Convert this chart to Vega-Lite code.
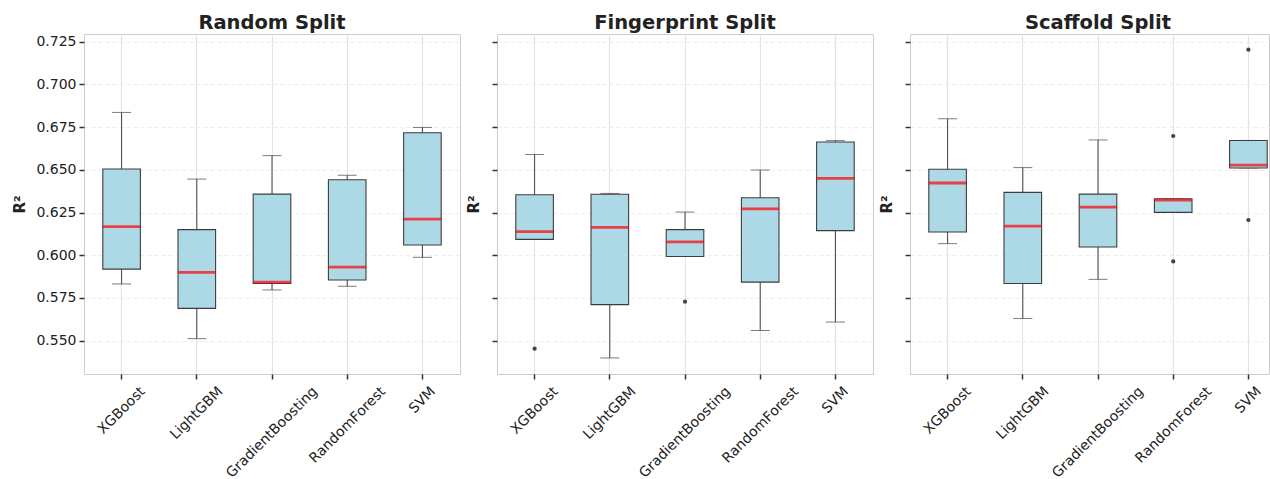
{
  "$schema": "https://vega.github.io/schema/vega-lite/v6.json",
  "usermeta": {"embedOptions": {"actions": false}},
  "background": "white",
  "autosize": {"type": "pad"},
  "padding": {"left": 12, "top": 12, "right": 0, "bottom": 0},
  "spacing": 37,
  "bounds": "flush",
  "datasets": {
    "boxes": [
      {"split": "Random Split", "model": "XGBoost", "min": 0.5832, "q1": 0.5919, "median": 0.6167, "q3": 0.6505, "max": 0.6836},
      {"split": "Random Split", "model": "LightGBM", "min": 0.5512, "q1": 0.5689, "median": 0.5900, "q3": 0.6150, "max": 0.6446},
      {"split": "Random Split", "model": "GradientBoosting", "min": 0.5797, "q1": 0.5835, "median": 0.5843, "q3": 0.6358, "max": 0.6583},
      {"split": "Random Split", "model": "RandomForest", "min": 0.5818, "q1": 0.5855, "median": 0.5931, "q3": 0.6442, "max": 0.6468},
      {"split": "Random Split", "model": "SVM", "min": 0.5988, "q1": 0.6060, "median": 0.6212, "q3": 0.6717, "max": 0.6748},
      {"split": "Fingerprint Split", "model": "XGBoost", "min": 0.6093, "q1": 0.6093, "median": 0.6138, "q3": 0.6354, "max": 0.6589},
      {"split": "Fingerprint Split", "model": "LightGBM", "min": 0.5399, "q1": 0.5711, "median": 0.6163, "q3": 0.6357, "max": 0.6362},
      {"split": "Fingerprint Split", "model": "GradientBoosting", "min": 0.5993, "q1": 0.5993, "median": 0.6078, "q3": 0.6150, "max": 0.6253},
      {"split": "Fingerprint Split", "model": "RandomForest", "min": 0.5560, "q1": 0.5843, "median": 0.6271, "q3": 0.6337, "max": 0.6499},
      {"split": "Fingerprint Split", "model": "SVM", "min": 0.5609, "q1": 0.6144, "median": 0.6450, "q3": 0.6663, "max": 0.6671},
      {"split": "Scaffold Split", "model": "XGBoost", "min": 0.6068, "q1": 0.6136, "median": 0.6423, "q3": 0.6503, "max": 0.6799},
      {"split": "Scaffold Split", "model": "LightGBM", "min": 0.5630, "q1": 0.5835, "median": 0.6171, "q3": 0.6368, "max": 0.6513},
      {"split": "Scaffold Split", "model": "GradientBoosting", "min": 0.5859, "q1": 0.6048, "median": 0.6282, "q3": 0.6358, "max": 0.6675},
      {"split": "Scaffold Split", "model": "RandomForest", "min": 0.6251, "q1": 0.6251, "median": 0.6323, "q3": 0.6331, "max": 0.6331},
      {"split": "Scaffold Split", "model": "SVM", "min": 0.6511, "q1": 0.6511, "median": 0.6528, "q3": 0.6672, "max": 0.6672}
    ],
    "outliers": [
      {"split": "Fingerprint Split", "model": "XGBoost", "value": 0.5453},
      {"split": "Fingerprint Split", "model": "GradientBoosting", "value": 0.5728},
      {"split": "Scaffold Split", "model": "RandomForest", "value": 0.6698},
      {"split": "Scaffold Split", "model": "RandomForest", "value": 0.5964},
      {"split": "Scaffold Split", "model": "SVM", "value": 0.7203},
      {"split": "Scaffold Split", "model": "SVM", "value": 0.6206}
    ]
  },
  "hconcat": [
    {
      "width": 376, "height": 340,
      "title": {"text": "Random Split"},
      "encoding": {
        "x": {"field": "model", "type": "nominal", "sort": ["XGBoost", "LightGBM", "GradientBoosting", "RandomForest", "SVM"],
          "scale": {"paddingInner": 0, "paddingOuter": 0},
          "axis": {"title": null, "labelAngle": -45, "labelAlign": "right", "labelBaseline": "top", "labelPadding": 5, "labelOverlap": false,
            "labelOffset": {"condition": [{"test": "datum.value === 'XGBoost'", "value": 16.3}, {"test": "datum.value === 'LightGBM'", "value": 18.9}, {"test": "datum.value === 'GradientBoosting'", "value": 38.3}, {"test": "datum.value === 'RandomForest'", "value": 31.2}], "value": 5.8},
            "tickSize": 5, "tickColor": "#333333", "tickWidth": 1.5, "domain": false, "grid": true, "gridColor": "#e3e3e3", "gridWidth": 1.2, "bandPosition": 0.5, "labelFontSize": 14, "labelColor": "#222222"}}
      },
      "layer": [
        {"data": {"name": "boxes"}, "transform": [{"filter": "datum.split === 'Random Split'"}],
         "mark": {"type": "rule", "color": "#444444", "strokeWidth": 1},
         "encoding": {"y": {"field": "min", "type": "quantitative", "scale": {"domain": [0.5305, 0.7295], "nice": false, "zero": false},
            "axis": {"title": "R²", "values": [0.55, 0.575, 0.6, 0.625, 0.65, 0.675, 0.7, 0.725], "format": ".3f", "tickSize": 5, "tickWidth": 1.5, "tickColor": "#333333", "labelPadding": 3, "labelFontSize": 14, "labelColor": "#222222", "domain": false, "grid": true, "gridColor": "#ececec", "gridDash": [4, 3], "gridWidth": 1, "titleFontSize": 15, "titleFontWeight": "bold", "titleColor": "#222222", "titlePadding": 8}},
           "y2": {"field": "max"}}},
        {"data": {"name": "boxes"}, "transform": [{"filter": "datum.split === 'Random Split'"}],
         "mark": {"type": "tick", "color": "#444444", "size": 19, "thickness": 1},
         "encoding": {"y": {"field": "min", "type": "quantitative", "scale": {"domain": [0.5305, 0.7295], "nice": false, "zero": false},
            "axis": {"title": "R²", "values": [0.55, 0.575, 0.6, 0.625, 0.65, 0.675, 0.7, 0.725], "format": ".3f", "tickSize": 5, "tickWidth": 1.5, "tickColor": "#333333", "labelPadding": 3, "labelFontSize": 14, "labelColor": "#222222", "domain": false, "grid": true, "gridColor": "#ececec", "gridDash": [4, 3], "gridWidth": 1, "titleFontSize": 15, "titleFontWeight": "bold", "titleColor": "#222222", "titlePadding": 8}}}},
        {"data": {"name": "boxes"}, "transform": [{"filter": "datum.split === 'Random Split'"}],
         "mark": {"type": "tick", "color": "#444444", "size": 19, "thickness": 1},
         "encoding": {"y": {"field": "max", "type": "quantitative", "scale": {"domain": [0.5305, 0.7295], "nice": false, "zero": false},
            "axis": {"title": "R²", "values": [0.55, 0.575, 0.6, 0.625, 0.65, 0.675, 0.7, 0.725], "format": ".3f", "tickSize": 5, "tickWidth": 1.5, "tickColor": "#333333", "labelPadding": 3, "labelFontSize": 14, "labelColor": "#222222", "domain": false, "grid": true, "gridColor": "#ececec", "gridDash": [4, 3], "gridWidth": 1, "titleFontSize": 15, "titleFontWeight": "bold", "titleColor": "#222222", "titlePadding": 8}}}},
        {"data": {"name": "boxes"}, "transform": [{"filter": "datum.split === 'Random Split'"}],
         "mark": {"type": "bar", "fill": "#ADD8E6", "stroke": "#3d3d3d", "strokeWidth": 1.1, "width": {"band": 0.5}},
         "encoding": {"y": {"field": "q1", "type": "quantitative", "scale": {"domain": [0.5305, 0.7295], "nice": false, "zero": false},
            "axis": {"title": "R²", "values": [0.55, 0.575, 0.6, 0.625, 0.65, 0.675, 0.7, 0.725], "format": ".3f", "tickSize": 5, "tickWidth": 1.5, "tickColor": "#333333", "labelPadding": 3, "labelFontSize": 14, "labelColor": "#222222", "domain": false, "grid": true, "gridColor": "#ececec", "gridDash": [4, 3], "gridWidth": 1, "titleFontSize": 15, "titleFontWeight": "bold", "titleColor": "#222222", "titlePadding": 8}}, "y2": {"field": "q3"}}},
        {"data": {"name": "boxes"}, "transform": [{"filter": "datum.split === 'Random Split'"}],
         "mark": {"type": "tick", "color": "#ff0000", "size": 37.6, "thickness": 2.8},
         "encoding": {"y": {"field": "median", "type": "quantitative", "scale": {"domain": [0.5305, 0.7295], "nice": false, "zero": false},
            "axis": {"title": "R²", "values": [0.55, 0.575, 0.6, 0.625, 0.65, 0.675, 0.7, 0.725], "format": ".3f", "tickSize": 5, "tickWidth": 1.5, "tickColor": "#333333", "labelPadding": 3, "labelFontSize": 14, "labelColor": "#222222", "domain": false, "grid": true, "gridColor": "#ececec", "gridDash": [4, 3], "gridWidth": 1, "titleFontSize": 15, "titleFontWeight": "bold", "titleColor": "#222222", "titlePadding": 8}}}},
        {"data": {"name": "outliers"}, "transform": [{"filter": "datum.split === 'Random Split'"}],
         "mark": {"type": "point", "filled": true, "color": "#444444", "size": 18, "opacity": 1},
         "encoding": {"y": {"field": "value", "type": "quantitative", "scale": {"domain": [0.5305, 0.7295], "nice": false, "zero": false},
            "axis": {"title": "R²", "values": [0.55, 0.575, 0.6, 0.625, 0.65, 0.675, 0.7, 0.725], "format": ".3f", "tickSize": 5, "tickWidth": 1.5, "tickColor": "#333333", "labelPadding": 3, "labelFontSize": 14, "labelColor": "#222222", "domain": false, "grid": true, "gridColor": "#ececec", "gridDash": [4, 3], "gridWidth": 1, "titleFontSize": 15, "titleFontWeight": "bold", "titleColor": "#222222", "titlePadding": 8}}}}
      ]
    },
    {
      "width": 376, "height": 340,
      "title": {"text": "Fingerprint Split"},
      "encoding": {
        "x": {"field": "model", "type": "nominal", "sort": ["XGBoost", "LightGBM", "GradientBoosting", "RandomForest", "SVM"],
          "scale": {"paddingInner": 0, "paddingOuter": 0},
          "axis": {"title": null, "labelAngle": -45, "labelAlign": "right", "labelBaseline": "top", "labelPadding": 5, "labelOverlap": false,
            "labelOffset": {"condition": [{"test": "datum.value === 'XGBoost'", "value": 16.3}, {"test": "datum.value === 'LightGBM'", "value": 18.9}, {"test": "datum.value === 'GradientBoosting'", "value": 38.3}, {"test": "datum.value === 'RandomForest'", "value": 31.2}], "value": 5.8},
            "tickSize": 5, "tickColor": "#333333", "tickWidth": 1.5, "domain": false, "grid": true, "gridColor": "#e3e3e3", "gridWidth": 1.2, "bandPosition": 0.5, "labelFontSize": 14, "labelColor": "#222222"}}
      },
      "layer": [
        {"data": {"name": "boxes"}, "transform": [{"filter": "datum.split === 'Fingerprint Split'"}],
         "mark": {"type": "rule", "color": "#444444", "strokeWidth": 1},
         "encoding": {"y": {"field": "min", "type": "quantitative", "scale": {"domain": [0.5305, 0.7295], "nice": false, "zero": false},
            "axis": {"title": "R²", "labels": false, "values": [0.55, 0.575, 0.6, 0.625, 0.65, 0.675, 0.7, 0.725], "tickSize": 5, "tickWidth": 1.5, "tickColor": "#333333", "domain": false, "grid": true, "gridColor": "#ececec", "gridDash": [4, 3], "gridWidth": 1, "titleFontSize": 15, "titleFontWeight": "bold", "titleColor": "#222222", "titlePadding": 10}},
           "y2": {"field": "max"}}},
        {"data": {"name": "boxes"}, "transform": [{"filter": "datum.split === 'Fingerprint Split'"}],
         "mark": {"type": "tick", "color": "#444444", "size": 19, "thickness": 1},
         "encoding": {"y": {"field": "min", "type": "quantitative", "scale": {"domain": [0.5305, 0.7295], "nice": false, "zero": false},
            "axis": {"title": "R²", "labels": false, "values": [0.55, 0.575, 0.6, 0.625, 0.65, 0.675, 0.7, 0.725], "tickSize": 5, "tickWidth": 1.5, "tickColor": "#333333", "domain": false, "grid": true, "gridColor": "#ececec", "gridDash": [4, 3], "gridWidth": 1, "titleFontSize": 15, "titleFontWeight": "bold", "titleColor": "#222222", "titlePadding": 10}}}},
        {"data": {"name": "boxes"}, "transform": [{"filter": "datum.split === 'Fingerprint Split'"}],
         "mark": {"type": "tick", "color": "#444444", "size": 19, "thickness": 1},
         "encoding": {"y": {"field": "max", "type": "quantitative", "scale": {"domain": [0.5305, 0.7295], "nice": false, "zero": false},
            "axis": {"title": "R²", "labels": false, "values": [0.55, 0.575, 0.6, 0.625, 0.65, 0.675, 0.7, 0.725], "tickSize": 5, "tickWidth": 1.5, "tickColor": "#333333", "domain": false, "grid": true, "gridColor": "#ececec", "gridDash": [4, 3], "gridWidth": 1, "titleFontSize": 15, "titleFontWeight": "bold", "titleColor": "#222222", "titlePadding": 10}}}},
        {"data": {"name": "boxes"}, "transform": [{"filter": "datum.split === 'Fingerprint Split'"}],
         "mark": {"type": "bar", "fill": "#ADD8E6", "stroke": "#3d3d3d", "strokeWidth": 1.1, "width": {"band": 0.5}},
         "encoding": {"y": {"field": "q1", "type": "quantitative", "scale": {"domain": [0.5305, 0.7295], "nice": false, "zero": false},
            "axis": {"title": "R²", "labels": false, "values": [0.55, 0.575, 0.6, 0.625, 0.65, 0.675, 0.7, 0.725], "tickSize": 5, "tickWidth": 1.5, "tickColor": "#333333", "domain": false, "grid": true, "gridColor": "#ececec", "gridDash": [4, 3], "gridWidth": 1, "titleFontSize": 15, "titleFontWeight": "bold", "titleColor": "#222222", "titlePadding": 10}}, "y2": {"field": "q3"}}},
        {"data": {"name": "boxes"}, "transform": [{"filter": "datum.split === 'Fingerprint Split'"}],
         "mark": {"type": "tick", "color": "#ff0000", "size": 37.6, "thickness": 2.8},
         "encoding": {"y": {"field": "median", "type": "quantitative", "scale": {"domain": [0.5305, 0.7295], "nice": false, "zero": false},
            "axis": {"title": "R²", "labels": false, "values": [0.55, 0.575, 0.6, 0.625, 0.65, 0.675, 0.7, 0.725], "tickSize": 5, "tickWidth": 1.5, "tickColor": "#333333", "domain": false, "grid": true, "gridColor": "#ececec", "gridDash": [4, 3], "gridWidth": 1, "titleFontSize": 15, "titleFontWeight": "bold", "titleColor": "#222222", "titlePadding": 10}}}},
        {"data": {"name": "outliers"}, "transform": [{"filter": "datum.split === 'Fingerprint Split'"}],
         "mark": {"type": "point", "filled": true, "color": "#444444", "size": 18, "opacity": 1},
         "encoding": {"y": {"field": "value", "type": "quantitative", "scale": {"domain": [0.5305, 0.7295], "nice": false, "zero": false},
            "axis": {"title": "R²", "labels": false, "values": [0.55, 0.575, 0.6, 0.625, 0.65, 0.675, 0.7, 0.725], "tickSize": 5, "tickWidth": 1.5, "tickColor": "#333333", "domain": false, "grid": true, "gridColor": "#ececec", "gridDash": [4, 3], "gridWidth": 1, "titleFontSize": 15, "titleFontWeight": "bold", "titleColor": "#222222", "titlePadding": 10}}}}
      ]
    },
    {
      "width": 359, "height": 340,
      "title": {"text": "Scaffold Split", "dx": 8.5},
      "encoding": {
        "x": {"field": "model", "type": "nominal", "sort": ["XGBoost", "LightGBM", "GradientBoosting", "RandomForest", "SVM"],
          "scale": {"paddingInner": 0, "paddingOuter": 0, "range": [0, 376]},
          "axis": {"title": null, "labelAngle": -45, "labelAlign": "right", "labelBaseline": "top", "labelPadding": 5, "labelOverlap": false,
            "labelOffset": {"condition": [{"test": "datum.value === 'XGBoost'", "value": 16.3}, {"test": "datum.value === 'LightGBM'", "value": 18.9}, {"test": "datum.value === 'GradientBoosting'", "value": 38.3}, {"test": "datum.value === 'RandomForest'", "value": 31.2}], "value": 5.8},
            "tickSize": 5, "tickColor": "#333333", "tickWidth": 1.5, "domain": false, "grid": true, "gridColor": "#e3e3e3", "gridWidth": 1.2, "bandPosition": 0.5, "labelFontSize": 14, "labelColor": "#222222"}}
      },
      "layer": [
        {"data": {"name": "boxes"}, "transform": [{"filter": "datum.split === 'Scaffold Split'"}],
         "mark": {"type": "rule", "color": "#444444", "strokeWidth": 1},
         "encoding": {"y": {"field": "min", "type": "quantitative", "scale": {"domain": [0.5305, 0.7295], "nice": false, "zero": false},
            "axis": {"title": "R²", "labels": false, "values": [0.55, 0.575, 0.6, 0.625, 0.65, 0.675, 0.7, 0.725], "tickSize": 5, "tickWidth": 1.5, "tickColor": "#333333", "domain": false, "grid": true, "gridColor": "#ececec", "gridDash": [4, 3], "gridWidth": 1, "titleFontSize": 15, "titleFontWeight": "bold", "titleColor": "#222222", "titlePadding": 10}},
           "y2": {"field": "max"}}},
        {"data": {"name": "boxes"}, "transform": [{"filter": "datum.split === 'Scaffold Split'"}],
         "mark": {"type": "tick", "color": "#444444", "size": 19, "thickness": 1},
         "encoding": {"y": {"field": "min", "type": "quantitative", "scale": {"domain": [0.5305, 0.7295], "nice": false, "zero": false},
            "axis": {"title": "R²", "labels": false, "values": [0.55, 0.575, 0.6, 0.625, 0.65, 0.675, 0.7, 0.725], "tickSize": 5, "tickWidth": 1.5, "tickColor": "#333333", "domain": false, "grid": true, "gridColor": "#ececec", "gridDash": [4, 3], "gridWidth": 1, "titleFontSize": 15, "titleFontWeight": "bold", "titleColor": "#222222", "titlePadding": 10}}}},
        {"data": {"name": "boxes"}, "transform": [{"filter": "datum.split === 'Scaffold Split'"}],
         "mark": {"type": "tick", "color": "#444444", "size": 19, "thickness": 1},
         "encoding": {"y": {"field": "max", "type": "quantitative", "scale": {"domain": [0.5305, 0.7295], "nice": false, "zero": false},
            "axis": {"title": "R²", "labels": false, "values": [0.55, 0.575, 0.6, 0.625, 0.65, 0.675, 0.7, 0.725], "tickSize": 5, "tickWidth": 1.5, "tickColor": "#333333", "domain": false, "grid": true, "gridColor": "#ececec", "gridDash": [4, 3], "gridWidth": 1, "titleFontSize": 15, "titleFontWeight": "bold", "titleColor": "#222222", "titlePadding": 10}}}},
        {"data": {"name": "boxes"}, "transform": [{"filter": "datum.split === 'Scaffold Split'"}],
         "mark": {"type": "bar", "fill": "#ADD8E6", "stroke": "#3d3d3d", "strokeWidth": 1.1, "width": {"band": 0.5}},
         "encoding": {"y": {"field": "q1", "type": "quantitative", "scale": {"domain": [0.5305, 0.7295], "nice": false, "zero": false},
            "axis": {"title": "R²", "labels": false, "values": [0.55, 0.575, 0.6, 0.625, 0.65, 0.675, 0.7, 0.725], "tickSize": 5, "tickWidth": 1.5, "tickColor": "#333333", "domain": false, "grid": true, "gridColor": "#ececec", "gridDash": [4, 3], "gridWidth": 1, "titleFontSize": 15, "titleFontWeight": "bold", "titleColor": "#222222", "titlePadding": 10}}, "y2": {"field": "q3"}}},
        {"data": {"name": "boxes"}, "transform": [{"filter": "datum.split === 'Scaffold Split'"}],
         "mark": {"type": "tick", "color": "#ff0000", "size": 37.6, "thickness": 2.8},
         "encoding": {"y": {"field": "median", "type": "quantitative", "scale": {"domain": [0.5305, 0.7295], "nice": false, "zero": false},
            "axis": {"title": "R²", "labels": false, "values": [0.55, 0.575, 0.6, 0.625, 0.65, 0.675, 0.7, 0.725], "tickSize": 5, "tickWidth": 1.5, "tickColor": "#333333", "domain": false, "grid": true, "gridColor": "#ececec", "gridDash": [4, 3], "gridWidth": 1, "titleFontSize": 15, "titleFontWeight": "bold", "titleColor": "#222222", "titlePadding": 10}}}},
        {"data": {"name": "outliers"}, "transform": [{"filter": "datum.split === 'Scaffold Split'"}],
         "mark": {"type": "point", "filled": true, "color": "#444444", "size": 18, "opacity": 1},
         "encoding": {"y": {"field": "value", "type": "quantitative", "scale": {"domain": [0.5305, 0.7295], "nice": false, "zero": false},
            "axis": {"title": "R²", "labels": false, "values": [0.55, 0.575, 0.6, 0.625, 0.65, 0.675, 0.7, 0.725], "tickSize": 5, "tickWidth": 1.5, "tickColor": "#333333", "domain": false, "grid": true, "gridColor": "#ececec", "gridDash": [4, 3], "gridWidth": 1, "titleFontSize": 15, "titleFontWeight": "bold", "titleColor": "#222222", "titlePadding": 10}}}}
      ]
    }
  ],
  "config": {
    "font": "DejaVu Sans",
    "view": {"stroke": "#cccccc", "strokeWidth": 1},
    "title": {"fontSize": 19.5, "fontWeight": "bold", "color": "#222222", "anchor": "middle", "baseline": "alphabetic", "offset": 1}
  }
}
